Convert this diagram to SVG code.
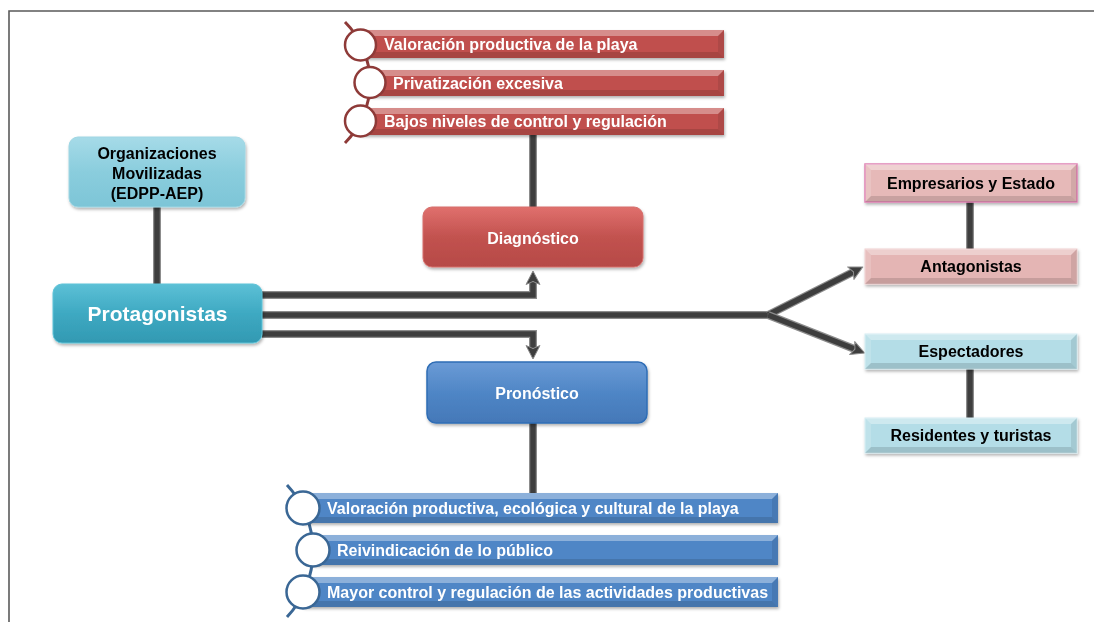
<svg xmlns="http://www.w3.org/2000/svg" width="1094" height="622" viewBox="0 0 1094 622">
<defs>
<style>
.t{font-family:"Liberation Sans",Arial,sans-serif;font-weight:bold;}
.w{fill:#ffffff;}
.k{fill:#000000;}
.ft{fill:#ffffff;opacity:.35}
.fb{fill:#000000;opacity:.13}
.fl{fill:#ffffff;opacity:.15}
.fr{fill:#000000;opacity:.09}
.cOut{fill:none;stroke:#8c8c8c;stroke-width:8}
.cIn{fill:none;stroke:#3e3e3e;stroke-width:5.5}
</style>
<linearGradient id="gRed" x1="0" y1="0" x2="0" y2="1">
<stop offset="0" stop-color="#e0706d"/><stop offset="0.5" stop-color="#c2524f"/><stop offset="1" stop-color="#b64a47"/>
</linearGradient>
<linearGradient id="gBlue" x1="0" y1="0" x2="0" y2="1">
<stop offset="0" stop-color="#6b9bd6"/><stop offset="0.5" stop-color="#4f86c6"/><stop offset="1" stop-color="#4478b8"/>
</linearGradient>
<linearGradient id="gTeal" x1="0" y1="0" x2="0" y2="1">
<stop offset="0" stop-color="#5cc0d6"/><stop offset="0.5" stop-color="#3ea9c2"/><stop offset="1" stop-color="#3299b2"/>
</linearGradient>
<linearGradient id="gLTeal" x1="0" y1="0" x2="0" y2="1">
<stop offset="0" stop-color="#a6dbe8"/><stop offset="0.5" stop-color="#8acddd"/><stop offset="1" stop-color="#7dc5d7"/>
</linearGradient>
<filter id="sh" x="-10%" y="-20%" width="120%" height="150%">
<feDropShadow dx="1" dy="2" stdDeviation="1.5" flood-color="#000" flood-opacity="0.3"/>
</filter>
<marker id="ah" markerUnits="userSpaceOnUse" markerWidth="16" markerHeight="16" viewBox="0 0 16 16" refX="3" refY="8" orient="auto">
<path d="M0.5,1 L14,8 L0.5,15 L3.5,8 Z" fill="#3e3e3e" stroke="#8c8c8c" stroke-width="1" stroke-linejoin="round"/>
</marker>
</defs>

<rect width="1094" height="622" fill="#ffffff"/>
<path d="M9,622 L9,11 L1094,11" fill="none" stroke="#5a5a5a" stroke-width="1.6"/>

<g id="connectors">
<path class="cOut" d="M157,207 V284"/><path class="cIn" d="M157,207 V284"/>
<path class="cOut" d="M533,135 V207"/><path class="cIn" d="M533,135 V207"/>
<path class="cOut" d="M533,423 V493"/><path class="cIn" d="M533,423 V493"/>
<path class="cOut" d="M970,202 V249"/><path class="cIn" d="M970,202 V249"/>
<path class="cOut" d="M970,369 V418"/><path class="cIn" d="M970,369 V418"/>
<path class="cOut" d="M262,295 H533 V282"/><path class="cIn" d="M262,295 H533 V282" marker-end="url(#ah)"/>
<path class="cOut" d="M262,334 H533 V348"/><path class="cIn" d="M262,334 H533 V348" marker-end="url(#ah)"/>
<path class="cOut" d="M262,315 H768"/><path class="cIn" d="M262,315 H768"/>
<path class="cOut" d="M768,315 L853,272"/><path class="cIn" d="M768,315 L853,272" marker-end="url(#ah)"/>
<path class="cOut" d="M768,315 L854.5,349"/><path class="cIn" d="M768,315 L854.5,349" marker-end="url(#ah)"/>
</g>

<g id="org" filter="url(#sh)">
<rect x="69" y="137" width="176" height="70" rx="9" fill="url(#gLTeal)" stroke="#9fd6e3" stroke-width="1"/>
<text class="t k" font-size="16" text-anchor="middle"><tspan x="157" y="159">Organizaciones</tspan><tspan x="157" y="179">Movilizadas</tspan><tspan x="157" y="199">(EDPP-AEP)</tspan></text>
</g>

<g id="protagonistas" filter="url(#sh)">
<rect x="53" y="284" width="209" height="59" rx="9" fill="url(#gTeal)" stroke="#5ec3d8" stroke-width="1"/>
<text class="t w" font-size="21" x="157.5" y="321" text-anchor="middle">Protagonistas</text>
</g>

<g id="diagnostico" filter="url(#sh)">
<rect x="423" y="207" width="220" height="60" rx="9" fill="url(#gRed)" stroke="#d66f6c" stroke-width="1"/>
<text class="t w" font-size="16" x="533" y="244" text-anchor="middle">Diagnóstico</text>
</g>

<g id="pronostico" filter="url(#sh)">
<rect x="427" y="362" width="220" height="61" rx="9" fill="url(#gBlue)" stroke="#2f6db5" stroke-width="1.5"/>
<text class="t w" font-size="16" x="537" y="399" text-anchor="middle">Pronóstico</text>
</g>

<g id="diag-list">
<path d="M345,22 A85.7,85.7 0 0,1 345,143" fill="none" stroke="#8e3a38" stroke-width="3"/>
<g id="d1" filter="url(#sh)">
<rect x="360" y="30" width="364" height="28" fill="#c0504d"/>
<polygon class="ft" points="360,30 724,30 718,36 366,36"/>
<polygon class="fb" points="360,58 724,58 718,52 366,52"/>
<polygon class="fr" points="724,30 718,36 718,52 724,58"/>
<text class="t w" font-size="16" x="384" y="50">Valoración productiva de la playa</text>
</g>
<g id="d2" filter="url(#sh)">
<rect x="370" y="70" width="354" height="26" fill="#c0504d"/>
<polygon class="ft" points="370,70 724,70 718,76 376,76"/>
<polygon class="fb" points="370,96 724,96 718,90 376,90"/>
<polygon class="fr" points="724,70 718,76 718,90 724,96"/>
<text class="t w" font-size="16" x="393" y="89">Privatización excesiva</text>
</g>
<g id="d3" filter="url(#sh)">
<rect x="360" y="108" width="364" height="27" fill="#c0504d"/>
<polygon class="ft" points="360,108 724,108 718,114 366,114"/>
<polygon class="fb" points="360,135 724,135 718,129 366,129"/>
<polygon class="fr" points="724,108 718,114 718,129 724,135"/>
<text class="t w" font-size="16" x="384" y="127">Bajos niveles de control y regulación</text>
</g>
<circle cx="360.5" cy="45" r="15.5" fill="#ffffff" stroke="#8e3a38" stroke-width="2.5"/>
<circle cx="370" cy="82.5" r="15.5" fill="#ffffff" stroke="#8e3a38" stroke-width="2.5"/>
<circle cx="360.5" cy="121" r="15.5" fill="#ffffff" stroke="#8e3a38" stroke-width="2.5"/>
</g>

<g id="pron-list">
<path d="M287,485 A96.8,96.8 0 0,1 287,617" fill="none" stroke="#3a6795" stroke-width="3"/>
<g id="p1" filter="url(#sh)">
<rect x="303" y="493" width="475" height="30" fill="#4f86c6"/>
<polygon class="ft" points="303,493 778,493 772,499 309,499"/>
<polygon class="fb" points="303,523 778,523 772,517 309,517"/>
<polygon class="fr" points="778,493 772,499 772,517 778,523"/>
<text class="t w" font-size="16" x="327" y="514">Valoración productiva, ecológica y cultural de la playa</text>
</g>
<g id="p2" filter="url(#sh)">
<rect x="313" y="535" width="465" height="30" fill="#4f86c6"/>
<polygon class="ft" points="313,535 778,535 772,541 319,541"/>
<polygon class="fb" points="313,565 778,565 772,559 319,559"/>
<polygon class="fr" points="778,535 772,541 772,559 778,565"/>
<text class="t w" font-size="16" x="337" y="556">Reivindicación de lo público</text>
</g>
<g id="p3" filter="url(#sh)">
<rect x="303" y="577" width="475" height="30" fill="#4f86c6"/>
<polygon class="ft" points="303,577 778,577 772,583 309,583"/>
<polygon class="fb" points="303,607 778,607 772,601 309,601"/>
<polygon class="fr" points="778,577 772,583 772,601 778,607"/>
<text class="t w" font-size="16" x="327" y="598">Mayor control y regulación de las actividades productivas</text>
</g>
<circle cx="303" cy="508" r="16.5" fill="#ffffff" stroke="#3a6795" stroke-width="2.5"/>
<circle cx="313" cy="550" r="16.5" fill="#ffffff" stroke="#3a6795" stroke-width="2.5"/>
<circle cx="303" cy="592" r="16.5" fill="#ffffff" stroke="#3a6795" stroke-width="2.5"/>
</g>

<g id="empresarios" filter="url(#sh)">
<rect x="865" y="164" width="212" height="38" fill="#e6b9b8" stroke="#e083b4" stroke-width="1.5"/>
<polygon class="ft" points="865,164 1077,164 1071,170 871,170"/>
<polygon class="fb" points="865,202 1077,202 1071,196 871,196"/>
<polygon class="fl" points="865,164 871,170 871,196 865,202"/>
<polygon class="fr" points="1077,164 1071,170 1071,196 1077,202"/>
<text class="t k" font-size="16" x="971" y="189" text-anchor="middle">Empresarios y Estado</text>
</g>

<g id="antagonistas" filter="url(#sh)">
<rect x="865" y="249" width="212" height="35" fill="#e4b5b4" stroke="#f0cfcf" stroke-width="1"/>
<polygon class="ft" points="865,249 1077,249 1071,255 871,255"/>
<polygon class="fb" points="865,284 1077,284 1071,278 871,278"/>
<polygon class="fl" points="865,249 871,255 871,278 865,284"/>
<polygon class="fr" points="1077,249 1071,255 1071,278 1077,284"/>
<text class="t k" font-size="16" x="971" y="272" text-anchor="middle">Antagonistas</text>
</g>

<g id="espectadores" filter="url(#sh)">
<rect x="865" y="334" width="212" height="35" fill="#b4dde7" stroke="#d3edf3" stroke-width="1"/>
<polygon class="ft" points="865,334 1077,334 1071,340 871,340"/>
<polygon class="fb" points="865,369 1077,369 1071,363 871,363"/>
<polygon class="fl" points="865,334 871,340 871,363 865,369"/>
<polygon class="fr" points="1077,334 1071,340 1071,363 1077,369"/>
<text class="t k" font-size="16" x="971" y="357" text-anchor="middle">Espectadores</text>
</g>

<g id="residentes" filter="url(#sh)">
<rect x="865" y="418" width="212" height="35" fill="#b4dde7" stroke="#d3edf3" stroke-width="1"/>
<polygon class="ft" points="865,418 1077,418 1071,424 871,424"/>
<polygon class="fb" points="865,453 1077,453 1071,447 871,447"/>
<polygon class="fl" points="865,418 871,424 871,447 865,453"/>
<polygon class="fr" points="1077,418 1071,424 1071,447 1077,453"/>
<text class="t k" font-size="16" x="971" y="441" text-anchor="middle">Residentes y turistas</text>
</g>
</svg>
